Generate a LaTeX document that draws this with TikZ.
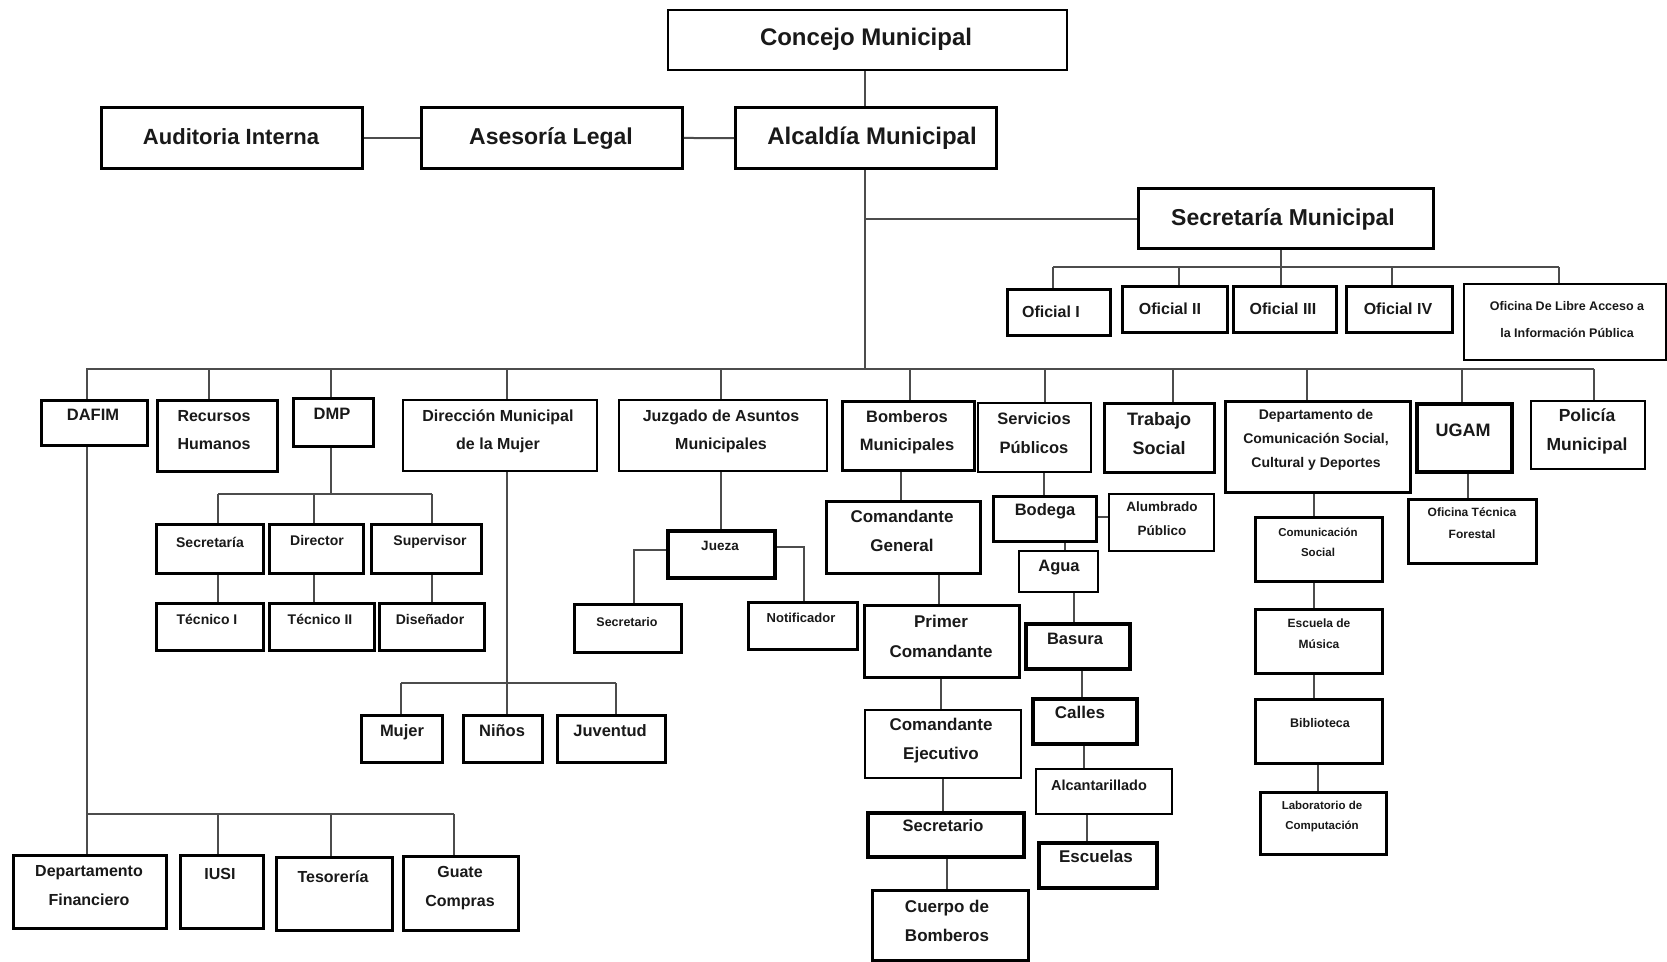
\documentclass[tikz,border=0pt]{standalone}
\usepackage{fontspec}
\setmainfont{Liberation Sans}
\tikzset{
  box/.style={draw=black,inner sep=0pt},
  lbl/.style={align=center,inner sep=0pt,text=black!90},
  conn/.style={draw=black!70,line width=2pt}
}
% box: [lw] name x1 y1 x2 y2
\newcommand\bx[6][3.5]{\node[box,line width={(#1-0.6)*1pt},minimum width={#5pt-#3pt},minimum height={#6pt-#4pt},anchor=north west] (#2) at (#3,#4) {};}
% text: name x y size lead text
\newcommand\tx[6]{\node[lbl,font=\fontsize{#4}{#5}\selectfont\bfseries] (#1) at (#2,#3) {#6};}
\begin{document}
\begin{tikzpicture}[x=1pt,y=-1pt]
\useasboundingbox[fill=white] (0,0) rectangle (1667,961);
% ---------- boxes ----------
\bx[3]{con}{667}{9}{1066}{69}
\bx[4]{alc}{734}{106}{995}{167}
\bx[3.5]{ase}{420}{106}{681}{167}
\bx[3.5]{aud}{100}{106}{361}{167}
\bx[4]{sec}{1137}{187}{1432}{247}
\bx[4]{o1}{1006}{288}{1109}{334}
\bx[4]{o2}{1121}{285}{1226}{331}
\bx[4]{o3}{1232}{285}{1335}{331}
\bx[4]{o4}{1345}{285}{1451}{331}
\bx[3]{olai}{1463}{283}{1665}{359}
\bx[4]{dafim}{40}{399}{146}{444}
\bx[3.5]{rh}{156}{399}{276}{470}
\bx[4]{dmp}{292}{397}{372}{445}
\bx[3]{dmm}{402}{399}{596}{470}
\bx[3]{jam}{618}{399}{826}{470}
\bx[4]{bom}{841}{400}{973}{469}
\bx[3]{sp}{977}{402}{1090}{471}
\bx[4]{ts}{1103}{402}{1213}{471}
\bx[4]{dc}{1224}{400}{1409}{491}
\bx[4.5]{ugam}{1415}{402}{1510}{470}
\bx[3]{pol}{1530}{400}{1644}{468}
\bx[4]{dsec}{155}{523}{262}{572}
\bx[4]{ddir}{268}{523}{362}{572}
\bx[4]{dsup}{370}{523}{480}{572}
\bx[4]{dt1}{155}{602}{262}{649}
\bx[3.5]{dt2}{268}{602}{373}{649}
\bx[4]{ddis}{378}{602}{483}{649}
\bx[4]{mujer}{360}{714}{441}{761}
\bx[4]{ninos}{462}{714}{541}{761}
\bx[4]{juv}{556}{714}{664}{761}
\bx[4.5]{jueza}{666}{529}{773}{576}
\bx[4]{jsec}{573}{603}{680}{651}
\bx[3.5]{jnot}{747}{601}{856}{648}
\bx[3.5]{cg}{825}{500}{979}{572}
\bx[3.5]{pc}{863}{604}{1018}{676}
\bx[3]{ce}{864}{709}{1020}{777}
\bx[4.5]{bsec}{866}{811}{1022}{855}
\bx[3.5]{cb}{871}{889}{1027}{959}
\bx[4]{bod}{992}{495}{1095}{540}
\bx[3]{alum}{1108}{493}{1213}{550}
\bx[3]{agua}{1018}{550}{1097}{591}
\bx[4.5]{bas}{1024}{622}{1128}{667}
\bx[4.5]{cal}{1031}{697}{1135}{742}
\bx[3]{alca}{1035}{768}{1171}{813}
\bx[4.5]{esc}{1037}{841}{1155}{886}
\bx[4]{cs}{1254}{516}{1381}{580}
\bx[4]{em}{1254}{608}{1381}{672}
\bx[4]{bib}{1254}{698}{1381}{762}
\bx[4]{lab}{1259}{791}{1385}{853}
\bx[4]{otf}{1407}{498}{1535}{562}
\bx[4]{df}{12}{854}{165}{927}
\bx[4]{iusi}{179}{854}{262}{927}
\bx[4]{tes}{275}{856}{391}{929}
\bx[3.5]{gc}{402}{855}{517}{929}
% ---------- connectors ----------
\draw[conn] (865,0 |- con.south) -- (865,0 |- alc.north);
\draw[conn] (aud.east) -- (ase.west);
\draw[conn] (ase.east) -- (alc.west);
\coordinate (bus) at (865,369);
\draw[conn] (865,0 |- alc.south) -- (bus);
\draw[conn] (865,0 |- sec.west) -- (sec.west);
\draw[conn] (86,369) -- (1594,369);
\foreach \x/\n in {87/dafim,209/rh,331/dmp,507/dmm,721/jam,910/bom,1045/sp,1173/ts,1307/dc,1462/ugam,1594/pol}
  \draw[conn] (\x,369) -- (\x,0 |- \n.north);
% Secretaria
\draw[conn] (1281,0 |- sec.south) -- (1281,267);
\draw[conn] (1053,267) -- (1559,267);
\foreach \x/\n in {1053/o1,1179/o2,1281/o3,1392/o4,1559/olai}
  \draw[conn] (\x,267) -- (\x,0 |- \n.north);
% DMP
\draw[conn] (331,0 |- dmp.south) -- (331,494);
\draw[conn] (218,494) -- (432,494);
\foreach \x/\n/\m in {218/dsec/dt1,314/ddir/dt2,432/dsup/ddis}{
  \draw[conn] (\x,494) -- (\x,0 |- \n.north);
  \draw[conn] (\x,0 |- \n.south) -- (\x,0 |- \m.north);}
% DMM
\draw[conn] (507,0 |- dmm.south) -- (507,0 |- ninos.north);
\draw[conn] (401,683) -- (616,683);
\draw[conn] (401,683) -- (401,0 |- mujer.north);
\draw[conn] (616,683) -- (616,0 |- juv.north);
% Juzgado
\draw[conn] (721,0 |- jam.south) -- (721,0 |- jueza.north);
\draw[conn] (jueza.west |- 0,550) -- (634,550) -- (634,0 |- jsec.north);
\draw[conn] (jueza.east |- 0,547) -- (804,547) -- (804,0 |- jnot.north);
% Bomberos
\draw[conn] (901,0 |- bom.south) -- (901,0 |- cg.north);
\draw[conn] (939,0 |- cg.south) -- (939,0 |- pc.north);
\draw[conn] (941,0 |- pc.south) -- (941,0 |- ce.north);
\draw[conn] (943,0 |- ce.south) -- (943,0 |- bsec.north);
\draw[conn] (947,0 |- bsec.south) -- (947,0 |- cb.north);
% Servicios
\draw[conn] (1044,0 |- sp.south) -- (1044,0 |- bod.north);
\draw[conn] (bod.east |- 0,517) -- (alum.west |- 0,517);
\draw[conn] (1065,0 |- bod.south) -- (1065,0 |- agua.north);
\draw[conn] (1074,0 |- agua.south) -- (1074,0 |- bas.north);
\draw[conn] (1082,0 |- bas.south) -- (1082,0 |- cal.north);
\draw[conn] (1084,0 |- cal.south) -- (1084,0 |- alca.north);
\draw[conn] (1087,0 |- alca.south) -- (1087,0 |- esc.north);
% Comunicacion
\draw[conn] (1314,0 |- dc.south) -- (1314,0 |- cs.north);
\draw[conn] (1314,0 |- cs.south) -- (1314,0 |- em.north);
\draw[conn] (1314,0 |- em.south) -- (1314,0 |- bib.north);
\draw[conn] (1318,0 |- bib.south) -- (1318,0 |- lab.north);
% UGAM
\draw[conn] (1468,0 |- ugam.south) -- (1468,0 |- otf.north);
% DAFIM
\draw[conn] (87,0 |- dafim.south) -- (87,0 |- df.north);
\draw[conn] (87,814) -- (454,814);
\foreach \x/\n in {218/iusi,331/tes,454/gc}
  \draw[conn] (\x,814) -- (\x,0 |- \n.north);
% ---------- texts ----------
\tx{tcon}{866}{39}{24}{28}{Concejo Municipal}
\tx{talc}{872}{138}{24}{28}{Alcaldía Municipal}
\tx{tase}{551}{139}{23}{28}{Asesoría Legal}
\tx{taud}{231}{137}{22}{28}{Auditoria Interna}
\tx{tsec}{1283}{219}{23}{28}{Secretaría Municipal}
\tx{to1}{1051}{312}{16}{20}{Oficial I}
\tx{to2}{1170}{309}{16}{20}{Oficial II}
\tx{to3}{1283}{309}{16}{20}{Oficial III}
\tx{to4}{1398}{309}{16}{20}{Oficial IV}
\tx{tolai}{1567}{320}{12.5}{27}{Oficina De Libre Acceso a\\la Información Pública}
\tx{tdafim}{93}{415}{16.5}{20}{DAFIM}
\tx{trh}{214}{430}{16}{28}{Recursos\\Humanos}
\tx{tdmp}{332}{414}{16.5}{20}{DMP}
\tx{tdmm}{498}{431}{16}{28}{Dirección Municipal\\de la Mujer}
\tx{tjam}{721}{431}{16}{28}{Juzgado de Asuntos\\Municipales}
\tx{tbom}{907}{432}{16.5}{28}{Bomberos\\Municipales}
\tx{tsp}{1034}{433}{16.5}{29}{Servicios\\Públicos}
\tx{tts}{1159}{434}{18}{29}{Trabajo\\Social}
\tx{tdc}{1316}{440}{14}{24}{Departamento de\\Comunicación Social,\\Cultural y Deportes}
\tx{tugam}{1463}{430}{18}{20}{UGAM}
\tx{tpol}{1587}{431}{17.5}{29}{Policía\\Municipal}
\tx{tdsec}{210}{542}{14}{18}{Secretaría}
\tx{tddir}{317}{540}{14}{18}{Director}
\tx{tdsup}{430}{542}{14}{18}{Supervisor}
\tx{tdt1}{207}{619}{14}{18}{Técnico I}
\tx{tdt2}{320}{619}{14}{18}{Técnico II}
\tx{tddis}{430}{619}{14}{18}{Diseñador}
\tx{tmujer}{402}{732}{16.5}{20}{Mujer}
\tx{tninos}{502}{731}{16.5}{20}{Niños}
\tx{tjuv}{610}{731}{16.5}{20}{Juventud}
\tx{tjueza}{720}{546}{13.5}{18}{Jueza}
\tx{tjsec}{627}{622}{12.5}{16}{Secretario}
\tx{tjnot}{801}{618}{13}{16}{Notificador}
\tx{tcg}{902}{531}{17}{29}{Comandante\\General}
\tx{tpc}{941}{636}{17}{30}{Primer\\Comandante}
\tx{tce}{941}{741}{17}{29}{Comandante\\Ejecutivo}
\tx{tbsec}{943}{826}{16.5}{20}{Secretario}
\tx{tcb}{947}{921}{17}{29}{Cuerpo de\\Bomberos}
\tx{tbod}{1045}{511}{16.5}{20}{Bodega}
\tx{talum}{1162}{519}{13.5}{24}{Alumbrado\\Público}
\tx{tagua}{1059}{568}{16.5}{20}{Agua}
\tx{tbas}{1075}{639}{16.5}{20}{Basura}
\tx{tcal}{1080}{712}{17}{20}{Calles}
\tx{talca}{1099}{785}{14.5}{18}{Alcantarillado}
\tx{tesc}{1096}{856}{17}{20}{Escuelas}
\tx{tcs}{1318}{542}{11.5}{20}{Comunicación\\Social}
\tx{tem}{1319}{634}{12}{21}{Escuela de\\Música}
\tx{tbib}{1320}{723}{12.5}{16}{Biblioteca}
\tx{tlab}{1322}{817}{11.5}{20}{Laboratorio de\\Computación}
\tx{totf}{1472}{523}{12}{22}{Oficina Técnica\\Forestal}
\tx{tdf}{89}{886}{16}{29}{Departamento\\Financiero}
\tx{tiusi}{220}{874}{16}{20}{IUSI}
\tx{ttes}{333}{877}{16}{20}{Tesorería}
\tx{tgc}{460}{888}{16}{29}{Guate\\Compras}
\end{tikzpicture}
\end{document}
